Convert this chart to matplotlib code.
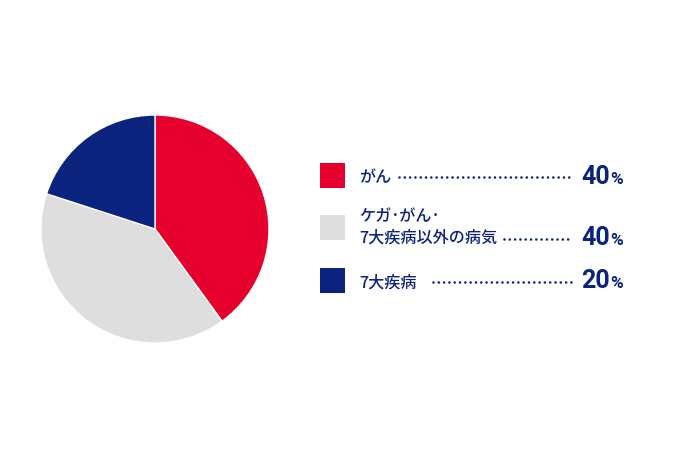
import matplotlib
matplotlib.use("Agg")
import matplotlib.pyplot as plt
from matplotlib.lines import Line2D

plt.rcParams['font.family'] = ['Noto Sans CJK JP', 'DejaVu Sans']

labels = ["がん", "ケガ･がん･\n7大疾病以外の病気", "7大疾病"]
values = [40, 40, 20]
colors = ["#E6002D", "#DEDEDE", "#0C237E"]
text_color = "#0C237E"

W, H = 690, 460
fig = plt.figure(figsize=(W / 100, H / 100), dpi=100)
fig.patch.set_facecolor("white")

# pie axes: centre (155, 230), radius ~114 px
cx, cy, r = 155, 230, 114
ax = fig.add_axes([(cx - r) / W, (H - cy - r) / H, 2 * r / W, 2 * r / H])
ax.pie(values, colors=colors, startangle=90, counterclock=False,
       wedgeprops=dict(edgecolor="white", linewidth=1.0))
ax.set_xlim(-1.0, 1.0)
ax.set_ylim(-1.0, 1.0)
ax.set_aspect("equal")
ax.axis("off")

def fx(x):
    return x / W

def fy(y):
    return 1 - y / H

# legend rows (pixel positions)
rows = [
    dict(sq=176, text_y=178, dot_start=399, dot_y=178, pct_y=177),
    dict(sq=228, text_y=238, dot_start=504, dot_y=240, pct_y=238),
    dict(sq=281, text_y=283, dot_start=433, dot_y=283, pct_y=281),
]
for lab, val, col, row in zip(labels, values, colors, rows):
    fig.patches.append(plt.Rectangle((fx(320), fy(row["sq"] + 12.5)), 25 / W, 25 / H,
                                     transform=fig.transFigure, facecolor=col,
                                     edgecolor="none"))
    lines = lab.split("\n")
    for k, line in enumerate(reversed(lines)):
        fig.text(fx(359), fy(row["text_y"] - 21 * k), line, color=text_color,
                 fontsize=11.6, ha="left", va="center", fontweight="medium")
    fig.lines.append(Line2D([fx(row["dot_start"]), fx(572)], [fy(row["dot_y"])] * 2,
                            transform=fig.transFigure, color=text_color,
                            linewidth=1.9, linestyle=(0, (0.01, 2.0)),
                            dash_capstyle="round"))
    fig.text(fx(610), fy(row["pct_y"]), str(val), color=text_color, fontsize=18,
             fontweight="bold", ha="right", va="center", family="Roboto")
    fig.text(fx(610.5), fy(row["pct_y"] + 2.5), "%", color=text_color, fontsize=12.5,
             fontweight="bold", ha="left", va="center", family="Roboto")

fig.savefig("out.png", dpi=100)
